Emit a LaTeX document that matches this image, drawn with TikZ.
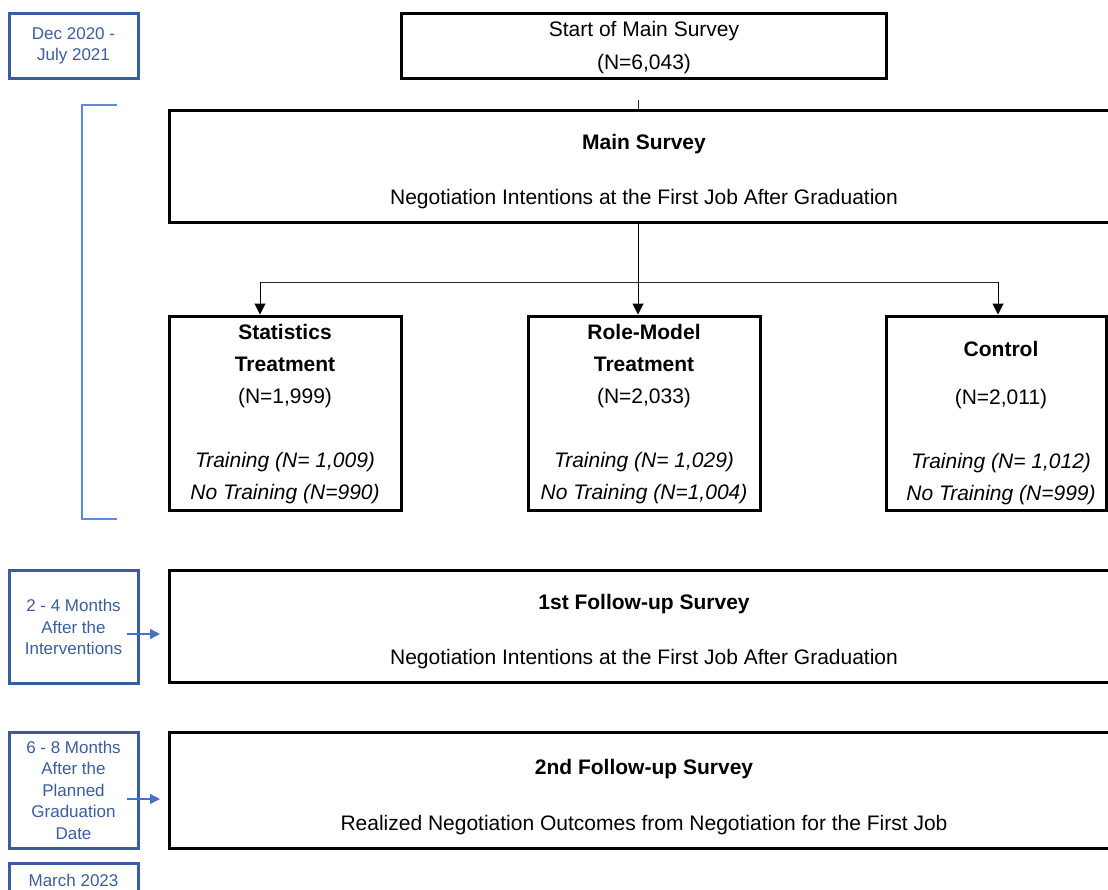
\documentclass[tikz,border=0pt]{standalone}
\usepackage{fontspec}
\setmainfont{Liberation Sans}
\usepackage{xcolor}
\usepackage{tikz}
\usetikzlibrary{calc,arrows.meta,positioning}
\definecolor{datec}{HTML}{3B5C9F}
\definecolor{brc}{HTML}{5B8BD9}
\definecolor{arc}{HTML}{4472C4}
\tikzset{
  bx/.style={draw=black,line width=3pt,inner sep=0pt},
  dbx/.style={draw=datec,line width=3pt,inner sep=0pt,minimum width=129pt},
  tx/.style={align=center,font=\fontsize{21}{32}\selectfont,inner sep=0pt},
  dtx/.style={align=center,text=datec,font=\fontsize{17}{21.5}\selectfont,inner sep=0pt},
  ln/.style={line width=1pt,black!85},
  ar/.style={-{Triangle[length=11pt,width=11pt]},line width=1pt,black},
  bar/.style={-{Triangle[length=10pt,width=10pt]},line width=1.5pt,arc}
}

\begin{document}
\begin{tikzpicture}[x=1pt,y=-1pt]
\useasboundingbox (0,0) rectangle (1108,889);
\clip (0,0) rectangle (1108,889);
% time line on the left
\node[dbx,minimum height=65pt] (d1) at (73.5,45.5) {};
\node[dtx] (d1t) at (73.5,46) {Dec 2020 -\\July 2021};
\node[dbx,minimum height=113pt] (d2) at (73.5,626.5) {};
\node[dtx] (d2t) at (73.5,627) {2 - 4 Months\\After the\\Interventions};
\node[dbx,minimum height=116pt] (d3) at (73.5,790) {};
\node[dtx] (d3t) at (73.5,790) {6 - 8 Months\\After the\\Planned\\Graduation\\Date};
\node[dbx,minimum height=66pt] (d4) at (73.5,896) {};
\node[dtx] (d4t) at (73.5,880) {March 2023};
\draw[brc,line width=1.2pt] (117,105) -- (82,105) -- (82,519) -- (117,519);
% survey boxes
\node[bx,minimum width=485pt,minimum height=65pt] (start) at (643.5,45.5) {};
\node[tx] (startt) at (644,48) {Start of Main Survey\\[1pt](N=6,043)};
\node[bx,minimum width=950pt,minimum height=112pt] (main) at (644,166) {};
\node[tx] (maint) at (644,172) {\textbf{Main Survey}\\[23pt]Negotiation Intentions at the First Job After Graduation};
\node[bx,minimum width=232pt,minimum height=194pt] (stat) at (285,413) {};
\node[tx] (statt) at (285,414) {\textbf{Statistics}\\\textbf{Treatment}\\(N=1,999)\\[32pt]\textit{Training (N= 1,009)}\\\textit{No Training (N=990)}};
\node[bx,minimum width=232pt,minimum height=194pt] (role) at (644,413) {};
\node[tx] (rolet) at (644,414) {\textbf{Role-Model}\\\textbf{Treatment}\\(N=2,033)\\[32pt]\textit{Training (N= 1,029)}\\\textit{No Training (N=1,004)}};
\node[bx,minimum width=220pt,minimum height=194pt] (ctrl) at (996,413) {};
\node[tx] (ctrlt) at (1001,423) {\textbf{Control}\\[16pt](N=2,011)\\[32pt]\textit{Training (N= 1,012)}\\\textit{No Training (N=999)}};
\node[bx,minimum width=950pt,minimum height=112pt] (fu1) at (644,626) {};
\node[tx] (fu1t) at (644,632) {\textbf{1st Follow-up Survey}\\[23pt]Negotiation Intentions at the First Job After Graduation};
\node[bx,minimum width=950pt,minimum height=116pt] (fu2) at (644,790) {};
\node[tx] (fu2t) at (644,797) {\textbf{2nd Follow-up Survey}\\[24pt]Realized Negotiation Outcomes from Negotiation for the First Job};
% connectors
\coordinate (tp) at (638,100);
\coordinate (jn) at (638,282);
\coordinate (jl) at (260,282);
\coordinate (jr) at (998,282);
\draw[ln] (tp) -- (tp |- main.north);
\draw[ar] (main.south -| jn) -- (role.north -| jn);
\draw[ln] (jl) -- (jr);
\draw[ar] (jl) -- (stat.north -| jl);
\draw[ar] (jr) -- (ctrl.north -| jr);
\coordinate (a2) at (160,634);
\coordinate (a3) at (160,799);
\draw[bar] ($(d2.east)+(-13,7.5)$) -- (a2);
\draw[bar] ($(d3.east)+(-13,9)$) -- (a3);
\end{tikzpicture}
\end{document}
